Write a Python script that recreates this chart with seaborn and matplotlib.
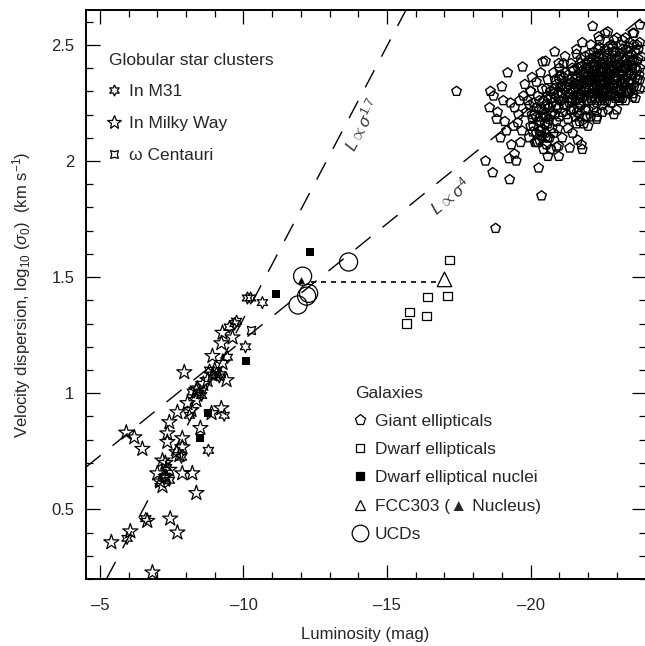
import numpy as np
import matplotlib.pyplot as plt
import seaborn as sns
from matplotlib.lines import Line2D
from matplotlib.ticker import MultipleLocator

# ------------------ Data ------------------
# Globular clusters in M31: absolute magnitude and log10(sigma_0)
m31_mag = [-10.14, -10.25, -10.66, -9.76, -9.51, -10.07, -9.44, -9.16, -9.06, -8.82,
           -8.54, -8.22, -8.12, -9.33, -8.78, -7.84, -7.32, -7.25, -7.42, -6.60,
           -5.95, -9.70, -8.45, -9.20]
m31_logs = [1.41, 1.41, 1.39, 1.31, 1.285, 1.20, 1.155, 1.07, 1.086, 1.10,
            0.99, 1.005, 0.905, 0.905, 0.754, 0.724, 0.68, 0.634, 0.625, 0.46,
            0.375, 1.30, 1.00, 1.08]

# Globular clusters in the Milky Way
mw_mag = [-9.27, -9.62, -9.23, -8.92, -9.27, -7.94, -8.92, -9.41, -8.75, -8.36,
          -8.40, -8.05, -8.36, -7.70, -8.19, -8.89, -9.23, -7.42, -8.50, -6.20,
          -5.92, -7.35, -7.87, -7.35, -6.48, -7.87, -7.67, -7.77, -7.18, -7.28,
          -7.42, -7.00, -7.87, -8.22, -7.18, -8.36, -6.65, -7.45, -7.70, -6.06,
          -5.40, -6.83, -9.00, -8.60, -7.30, -7.10]
mw_logs = [1.26, 1.24, 1.215, 1.16, 1.13, 1.09, 1.08, 1.056, 1.056, 1.013,
           1.02, 0.957, 0.97, 0.918, 0.927, 0.914, 0.935, 0.875, 0.85, 0.81,
           0.83, 0.827, 0.806, 0.79, 0.76, 0.767, 0.746, 0.733, 0.71, 0.70,
           0.67, 0.655, 0.655, 0.655, 0.60, 0.57, 0.45, 0.46, 0.40, 0.405,
           0.358, 0.228, 1.10, 1.04, 0.64, 0.62]

omega_cen_mag = [-10.28]
omega_cen_logs = [1.27]

# Giant ellipticals
giant_mag = [-17.42, -18.78, -18.43, -18.68, -19.27, -20.28, -20.38, -19.50, -19.44, -19.33,
             -19.16, -18.57, -18.71, -18.85, -18.82, -19.62, -19.44, -19.58, -19.55, -19.72,
             -20.42, -20.52, -20.84, -20.98, -21.60, -22.16, -22.69, -22.37, -23.00, -23.80,
             -23.56, -23.80, -20.00, -19.90, -19.96, -20.07, -20.07, -20.31, -20.52, -20.66,
             -20.98, -20.98, -21.36, -21.77, -21.80, -21.64, -21.46, -21.95, -22.30, -22.65,
             -23.17, -23.55, -23.35, -23.80, -23.38, -23.10, -20.10, -20.20, -20.30, -20.40,
             -20.50, -20.60, -20.15, -20.35, -21.50, -21.60, -21.70, -21.80, -21.90, -22.00,
             -22.00, -22.10, -22.20, -22.20, -22.30, -22.30, -22.40, -22.40, -22.50, -22.50,
             -22.60, -22.60, -22.70, -22.70, -22.80, -22.80, -22.90, -22.90, -23.00, -23.00,
             -23.10, -23.10, -23.20, -23.20, -23.30, -23.30, -23.40, -23.50, -23.50, -23.60,
             -23.70, -23.70, -21.30, -21.40, -21.20, -21.10, -21.00, -20.90, -20.80, -20.70,
             -20.60, -20.50, -20.40, -20.30, -20.20, -20.10, -20.00, -20.25, -20.55, -20.75,
             -20.90, -21.10, -21.30, -21.50, -21.70, -22.00, -22.30, -22.50, -22.80, -23.00,
             -23.20, -21.90, -22.10, -22.40, -22.60, -21.40, -21.20, -21.00, -20.80, -20.60,
             -20.40, -20.20, -20.00, -21.60, -21.80, -22.90, -23.30, -23.60, -23.85, -22.15,
             -22.35, -22.55, -22.45, -22.65, -22.25, -22.75, -22.05, -21.85, -21.75, -21.65,
             -22.95, -23.05, -23.15, -23.25, -23.45, -22.85, -21.95, -21.55, -21.35, -21.25,
             -21.05, -20.85, -20.65, -20.45, -20.25, -20.35, -20.55, -20.75, -20.95, -21.15,
             -21.45, -21.55, -21.65, -21.75, -21.85, -21.95, -22.05, -22.15, -22.25, -22.35,
             -22.45, -22.55, -22.65, -22.75, -22.85, -22.95, -23.05, -23.15, -23.25, -23.35,
             -23.45, -23.55, -23.65, -23.75, -21.48, -21.62, -21.78, -21.92, -22.08, -22.22,
             -22.38, -22.52, -22.68, -22.82, -22.98, -23.12, -23.28, -23.42, -23.58, -23.72,
             -21.30, -21.45, -21.60, -21.75, -21.90, -22.05, -22.20, -22.35, -22.50, -22.65,
             -22.80, -22.95, -23.10, -23.25, -23.40, -23.55, -23.70, -22.10, -22.40, -22.70,
             -20.60, -20.75, -20.90, -21.05, -21.20, -21.35, -20.70, -20.85, -21.00, -21.15,
             -20.20, -20.30, -20.45, -20.55, -20.65, -20.80, -20.95, -21.10, -21.25, -21.40,
             -22.00, -22.20, -22.40, -22.60, -22.80, -23.00, -23.20, -23.40, -23.60, -23.80,
             -22.90, -22.50, -22.10, -21.70, -21.30, -23.50, -23.65, -23.30, -22.30, -21.85,
             -19.80, -19.85, -20.05, -20.15, -19.70, -19.95, -20.45, -20.60, -19.75, -20.35,
             -19.30, -19.10, -19.00, -18.95, -19.20, -18.60, -19.40, -19.05, -19.65, -19.25,
             -21.52, -21.68, -21.83, -21.97, -22.12, -22.27, -22.43, -22.58, -22.73, -22.88,
             -23.03, -23.18, -23.33, -23.48, -23.63, -23.78, -21.58, -21.73, -21.88, -22.03,
             -22.18, -22.33, -22.48, -22.63, -22.78, -22.93, -23.08, -23.23, -23.38, -23.53,
             -21.40, -21.55, -21.70, -21.85, -22.00, -22.15, -22.30, -22.45, -22.60, -22.75,
             -22.90, -23.05, -23.20, -23.35, -23.50, -23.65, -23.80, -21.95, -22.25, -22.55,
             -20.85, -21.00, -21.15, -21.30, -20.70, -20.50, -20.35, -21.05, -21.25, -20.95,
             -22.85, -23.15, -23.45, -23.75, -22.65, -22.35, -22.05, -21.75, -21.45, -21.15,
             -22.70, -22.20, -21.90, -21.60, -23.10, -23.40, -23.70, -22.95, -22.45, -21.65,
             -20.80, -20.60, -20.40, -20.20, -20.05, -20.90, -21.10, -20.70, -20.50, -20.30,
             -22.10, -22.30, -22.50, -22.70, -22.90, -23.10, -23.30, -23.50, -21.90, -21.70,
             -22.22, -22.42, -22.62, -22.82, -23.02, -22.32, -22.52, -22.72, -22.92, -22.12,
             -21.35, -21.50, -21.65, -21.80, -21.95, -22.10, -22.25, -22.40, -22.55, -22.70]
giant_logs = [2.30, 1.71, 2.00, 1.95, 1.92, 1.97, 1.85, 2.00, 2.03, 2.07,
              2.13, 2.23, 2.28, 2.21, 2.18, 2.26, 2.23, 2.20, 2.165, 2.405,
              2.427, 2.43, 2.47, 2.42, 2.46, 2.58, 2.556, 2.535, 2.53, 2.586,
              2.55, 2.51, 2.30, 2.26, 2.24, 2.18, 2.125, 2.09, 2.10, 2.10,
              2.065, 2.02, 2.056, 2.07, 2.05, 2.09, 2.12, 2.19, 2.19, 2.26,
              2.305, 2.275, 2.30, 2.31, 2.31, 2.275, 2.15, 2.12, 2.17, 2.14,
              2.19, 2.16, 2.20, 2.13, 2.30, 2.36, 2.25, 2.41, 2.31, 2.37,
              2.22, 2.44, 2.29, 2.35, 2.40, 2.25, 2.33, 2.46, 2.38, 2.28,
              2.42, 2.34, 2.49, 2.30, 2.37, 2.44, 2.33, 2.40, 2.47, 2.36,
              2.42, 2.30, 2.39, 2.48, 2.35, 2.44, 2.41, 2.37, 2.46, 2.43,
              2.39, 2.50, 2.33, 2.26, 2.38, 2.29, 2.35, 2.24, 2.31, 2.20,
              2.28, 2.16, 2.22, 2.13, 2.19, 2.25, 2.15, 2.08, 2.07, 2.14,
              2.17, 2.21, 2.18, 2.22, 2.17, 2.15, 2.18, 2.21, 2.25, 2.22,
              2.27, 2.45, 2.50, 2.52, 2.55, 2.42, 2.45, 2.40, 2.38, 2.35,
              2.31, 2.34, 2.30, 2.48, 2.51, 2.52, 2.53, 2.32, 2.45, 2.32,
              2.37, 2.31, 2.42, 2.38, 2.27, 2.34, 2.40, 2.34, 2.29, 2.40,
              2.44, 2.32, 2.37, 2.43, 2.34, 2.29, 2.26, 2.35, 2.29, 2.24,
              2.32, 2.27, 2.23, 2.26, 2.28, 2.17, 2.19, 2.25, 2.29, 2.36,
              2.27, 2.31, 2.34, 2.24, 2.38, 2.33, 2.29, 2.41, 2.36, 2.30,
              2.35, 2.45, 2.28, 2.40, 2.33, 2.38, 2.44, 2.29, 2.35, 2.39,
              2.45, 2.41, 2.36, 2.44, 2.39, 2.21, 2.32, 2.40, 2.34, 2.39,
              2.27, 2.36, 2.44, 2.31, 2.28, 2.46, 2.40, 2.30, 2.50, 2.35,
              2.37, 2.34, 2.28, 2.36, 2.22, 2.34, 2.42, 2.45, 2.33, 2.31,
              2.41, 2.35, 2.38, 2.32, 2.47, 2.29, 2.43, 2.27, 2.29, 2.36,
              2.24, 2.21, 2.33, 2.26, 2.31, 2.25, 2.30, 2.35, 2.19, 2.27,
              2.23, 2.26, 2.20, 2.31, 2.18, 2.29, 2.23, 2.33, 2.20, 2.31,
              2.43, 2.47, 2.49, 2.48, 2.50, 2.41, 2.52, 2.49, 2.55, 2.40,
              2.20, 2.24, 2.19, 2.20, 2.14, 2.33, 2.27, 2.26, 2.21, 2.16,
              2.33, 2.21, 2.36, 2.08, 2.13, 2.10, 2.05, 2.02, 2.28, 2.38,
              2.25, 2.17, 2.32, 2.10, 2.38, 2.30, 2.15, 2.26, 2.08, 2.01,
              2.33, 2.29, 2.37, 2.35, 2.26, 2.33, 2.39, 2.26, 2.33, 2.47,
              2.40, 2.33, 2.48, 2.39, 2.47, 2.37, 2.26, 2.42, 2.28, 2.31,
              2.37, 2.43, 2.30, 2.40, 2.28, 2.36, 2.45, 2.40, 2.37, 2.43,
              2.22, 2.19, 2.33, 2.30, 2.28, 2.36, 2.34, 2.39, 2.30, 2.42,
              2.36, 2.27, 2.34, 2.42, 2.31, 2.40, 2.35, 2.42, 2.45, 2.40,
              2.20, 2.28, 2.24, 2.27, 2.27, 2.24, 2.19, 2.37, 2.32, 2.14,
              2.49, 2.50, 2.51, 2.48, 2.46, 2.48, 2.46, 2.44, 2.40, 2.42,
              2.22, 2.23, 2.19, 2.16, 2.26, 2.29, 2.32, 2.27, 2.26, 2.23,
              2.12, 2.10, 2.11, 2.08, 2.20, 2.06, 2.10, 2.05, 2.12, 2.22,
              2.38, 2.32, 2.44, 2.35, 2.42, 2.34, 2.41, 2.35, 2.38, 2.27,
              2.31, 2.36, 2.36, 2.39, 2.30, 2.35, 2.40, 2.32, 2.38, 2.35,
              2.35, 2.39, 2.31, 2.27, 2.36, 2.29, 2.41, 2.31, 2.29, 2.38]

# Dwarf ellipticals and their nuclei
dwarf_mag = [-17.18, -16.41, -17.11, -15.78, -16.37, -15.68]
dwarf_logs = [1.573, 1.414, 1.418, 1.349, 1.332, 1.30]
nuclei_mag = [-12.33, -11.15, -10.10, -8.47, -8.75]
nuclei_logs = [1.61, 1.427, 1.138, 0.806, 0.913]

# FCC303 galaxy and its nucleus
fcc_mag = [-17.0]
fcc_logs = [1.49]
fcc_nuc_mag = [-12.02]
fcc_nuc_logs = [1.487]
fcc_link_mag = [-12.35, -16.8]
fcc_link_logs = [1.48, 1.48]

# Ultra compact dwarfs
ucd_mag = [-12.06, -12.27, -12.20, -11.90, -13.66]
ucd_logs = [1.504, 1.43, 1.418, 1.38, 1.565]

# Scaling relations (end points)
rel17_mag = [-5.23, -15.66]
rel17_logs = [0.20, 2.65]
rel4_mag = [-4.5, -24.0]
rel4_logs = [0.68, 2.63]

xticks = [-5, -10, -15, -20]
xtick_labels = ['\u20135', '\u201310', '\u201315', '\u201320']
yticks = [0.5, 1.0, 1.5, 2.0, 2.5]
ytick_labels = ['0.5', '1', '1.5', '2', '2.5']

# ------------------ Style ------------------
sns.set_style('ticks')
plt.rcParams['font.family'] = ['Liberation Sans', 'DejaVu Sans']
plt.rcParams['mathtext.fontset'] = 'custom'
plt.rcParams['mathtext.rm'] = 'Liberation Sans'
plt.rcParams['mathtext.it'] = 'Liberation Sans:italic'
plt.rcParams['mathtext.bf'] = 'Liberation Sans:bold'

fig = plt.figure(figsize=(6.45, 6.46), dpi=100)
ax = fig.add_axes([85.5 / 645, 67 / 646, 560 / 645, 569 / 646])

open_kw = dict(facecolor='none', edgecolor='black', linewidth=0.9)
m31_marker = (6, 1, 0)
mw_marker = '*'
omega_marker = (4, 1, 45)

# ------------------ Relations ------------------
sns.lineplot(x=rel17_mag, y=rel17_logs, color='black', lw=1.0,
             linestyle=(0, (14, 11)), sort=False, ax=ax)
sns.lineplot(x=rel4_mag, y=rel4_logs, color='black', lw=1.0,
             linestyle=(0, (14, 11)), sort=False, ax=ax)
sns.lineplot(x=fcc_link_mag, y=fcc_link_logs, color='black', lw=1.2,
             linestyle=(0, (3, 3)), sort=False, ax=ax)

# ------------------ Points ------------------
sns.scatterplot(x=giant_mag, y=giant_logs, marker='p', s=52, ax=ax,
                facecolor='none', edgecolor='black', linewidth=1.0)
sns.scatterplot(x=dwarf_mag, y=dwarf_logs, marker='s', s=38, ax=ax, **open_kw)
sns.scatterplot(x=nuclei_mag, y=nuclei_logs, marker='s', s=30, color='black',
                edgecolor='black', linewidth=0, ax=ax)
sns.scatterplot(x=fcc_mag, y=fcc_logs, marker='^', s=110, ax=ax, **open_kw)
sns.scatterplot(x=fcc_nuc_mag, y=fcc_nuc_logs, marker='^', s=25, color='black',
                edgecolor='black', linewidth=0, ax=ax)
sns.scatterplot(x=ucd_mag, y=ucd_logs, marker='o', s=170, ax=ax, **open_kw)
sns.scatterplot(x=mw_mag, y=mw_logs, marker=mw_marker, s=130, ax=ax, **open_kw)
sns.scatterplot(x=m31_mag, y=m31_logs, marker=m31_marker, s=75, ax=ax, **open_kw)
sns.scatterplot(x=omega_cen_mag, y=omega_cen_logs, marker=omega_marker, s=70,
                ax=ax, **open_kw)

# relation labels
ax.text(-14.11, 2.155, r'$L \propto \sigma^{1.7}$', rotation=62, fontsize=12,
        color='#333333', ha='center', va='center', rotation_mode='anchor')
ax.text(-17.18, 1.85, r'$L \propto \sigma^{4}$', rotation=39, fontsize=12,
        color='#333333', ha='center', va='center', rotation_mode='anchor')

# ------------------ Axes ------------------
ax.set_xlim(-4.5, -24.0)
ax.set_ylim(0.2, 2.65)
ax.set_xticks(xticks, labels=xtick_labels)
ax.set_yticks(yticks, labels=ytick_labels)
ax.xaxis.set_minor_locator(MultipleLocator(1))
ax.yaxis.set_minor_locator(MultipleLocator(0.1))
ax.tick_params(which='both', direction='in', top=True, right=True,
               width=0.9, color='black', labelsize=12)
ax.tick_params(which='major', length=10, pad=8)
ax.tick_params(axis='x', which='major', pad=14)
ax.tick_params(which='minor', length=5)
for sp in ax.spines.values():
    sp.set_linewidth(1.4)
    sp.set_color('black')

ax.set_xlabel('Luminosity (mag)', fontsize=12, labelpad=10)
ax.set_ylabel(r'Velocity dispersion, log$_{10}$ ($\sigma_0$)  (km s$^{-1}$)',
              fontsize=12, labelpad=13)

# ------------------ Legends ------------------
def handle(marker, ms, filled=False, label=''):
    return Line2D([], [], linestyle='none', marker=marker, markersize=ms,
                  markerfacecolor='black' if filled else 'none',
                  markeredgecolor='black', markeredgewidth=0.9, label=label)

gc_handles = [handle(m31_marker, 8, label='In M31'),
              handle(mw_marker, 10, label='In Milky Way'),
              handle(omega_marker, 8, label='\u03c9 Centauri')]
gal_handles = [handle('p', 8, label='Giant ellipticals'),
               handle('s', 6, label='Dwarf ellipticals'),
               handle('s', 5.5, filled=True, label='Dwarf elliptical nuclei'),
               handle('^', 7, label='FCC303 (\u25b2 Nucleus)'),
               handle('o', 12, label='UCDs')]

leg_kw = dict(loc='upper left', frameon=False, fontsize=12.5, title_fontsize=12.5,
              alignment='left', handlelength=0.6, handletextpad=0.55,
              borderaxespad=0, borderpad=0.4)
leg1 = ax.legend(handles=gc_handles, title='Globular star clusters',
                 bbox_to_anchor=(0.0295, 0.937), labelspacing=0.95, **leg_kw)
ax.add_artist(leg1)
ax.legend(handles=gal_handles, title='Galaxies',
          bbox_to_anchor=(0.469, 0.3515), labelspacing=0.75, **leg_kw)

fig.savefig('out.png', dpi=100)
